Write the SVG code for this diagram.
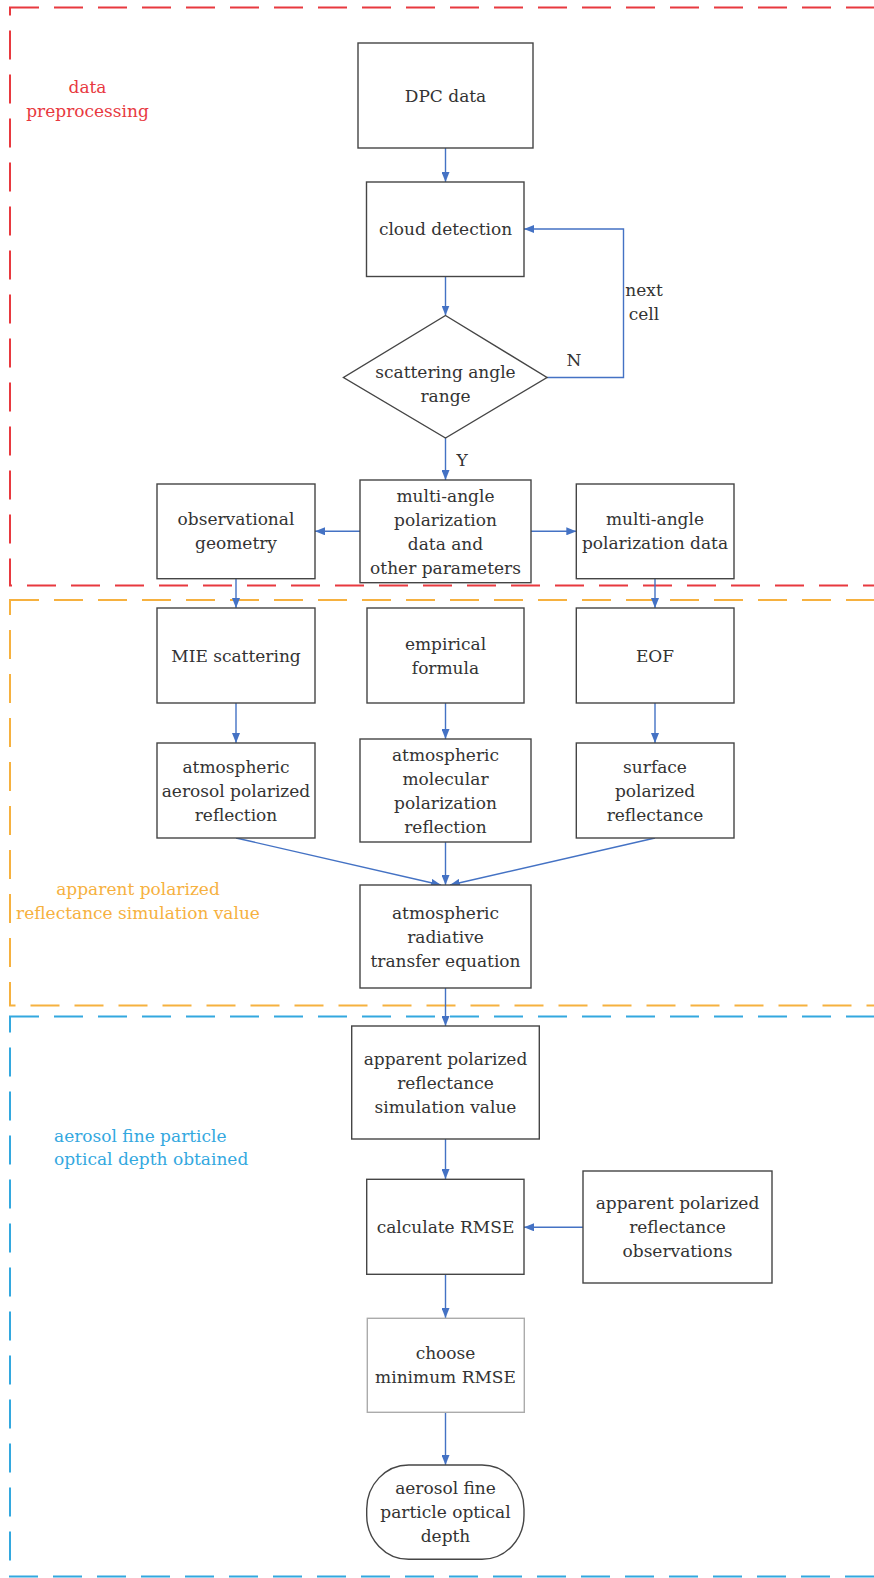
<svg xmlns="http://www.w3.org/2000/svg" width="874" height="1578" viewBox="0 0 874 1578">
<style>
.region{fill:none;stroke-width:2;stroke-dasharray:29 15}
.node{fill:#fff;stroke:#454545;stroke-width:1.4}
.light{stroke:#ababab}
.t{font-family:"DejaVu Serif","Liberation Serif",serif;font-size:17px;fill:#333;text-anchor:middle}
.lbl{font-family:"DejaVu Serif","Liberation Serif",serif;font-size:17px;text-anchor:middle}
.conn{fill:none;stroke:#4472c4;stroke-width:1.4;marker-end:url(#ah)}
</style>
<defs>
<marker id="ah" markerUnits="userSpaceOnUse" markerWidth="10" markerHeight="8" refX="10" refY="4" orient="auto">
<path d="M0,0 L10,4 L0,8 z" fill="#4472c4"/>
</marker>
</defs>
<rect width="874" height="1578" fill="#fff"/>
<g id="regions">
<rect class="region" x="10" y="7.5" width="900" height="578" stroke="#e8393f"/>
<rect class="region" x="10" y="600" width="900" height="405.5" stroke="#f6b13f"/>
<rect class="region" x="10" y="1016.5" width="900" height="560" stroke="#33a8df"/>
<text class="lbl" fill="#e8393f" x="87.5" y="93">data</text>
<text class="lbl" fill="#e8393f" x="87.5" y="117">preprocessing</text>
<text class="lbl" fill="#f6b13f" x="138" y="895">apparent polarized</text>
<text class="lbl" fill="#f6b13f" x="138" y="918.5">reflectance simulation value</text>
<text class="lbl" fill="#33a8df" x="54" y="1141.5" style="text-anchor:start">aerosol fine particle</text>
<text class="lbl" fill="#33a8df" x="54" y="1165" style="text-anchor:start">optical depth obtained</text>
</g>
<g id="connectors">
<path class="conn" d="M445.5,148 V182"/>
<path class="conn" d="M445.5,276.5 V315.5"/>
<path class="conn" d="M547,377.5 H623.5 V229 H524"/>
<path class="conn" d="M445.5,438 V480"/>
<path class="conn" d="M360,531.3 H315"/>
<path class="conn" d="M531,531.3 H576.3"/>
<path class="conn" d="M236,578.7 V608"/>
<path class="conn" d="M655,578.7 V608"/>
<path class="conn" d="M236,703 V743"/>
<path class="conn" d="M445.5,703 V739"/>
<path class="conn" d="M655,703 V743"/>
<path class="conn" d="M236,838 L441,885"/>
<path class="conn" d="M445.5,842 V885"/>
<path class="conn" d="M655,838 L450,885"/>
<path class="conn" d="M445.5,988 V1026"/>
<path class="conn" d="M445.5,1139 V1179"/>
<path class="conn" d="M583,1227.3 H524"/>
<path class="conn" d="M445.5,1274.3 V1318"/>
<path class="conn" d="M445.5,1412.3 V1465"/>
<text class="t" x="644" y="296">next</text>
<text class="t" x="644" y="320">cell</text>
<text class="t" x="574" y="366">N</text>
<text class="t" x="462" y="465.5">Y</text>
</g>
<g id="dpc"><rect class="node" x="358" y="43" width="175" height="105"/><text class="t" x="445.5" y="101.5">DPC data</text></g>
<g id="cloud"><rect class="node" x="366.5" y="182" width="157.5" height="94.5"/><text class="t" x="445.5" y="235.3">cloud detection</text></g>
<g id="scatter"><path class="node" d="M445.5,315.5 L547,377.5 L445.5,438 L343.5,377.5 z"/><text class="t" x="445.5" y="378">scattering angle</text><text class="t" x="445.5" y="402">range</text></g>
<g id="obsgeo"><rect class="node" x="157" y="484" width="158" height="94.7"/><text class="t" x="236" y="525.3">observational</text><text class="t" x="236" y="549.3">geometry</text></g>
<g id="multi"><rect class="node" x="360" y="480" width="171" height="102.7"/><text class="t" x="445.5" y="501.5">multi-angle</text><text class="t" x="445.5" y="525.5">polarization</text><text class="t" x="445.5" y="549.5">data and</text><text class="t" x="445.5" y="573.5">other parameters</text></g>
<g id="multipol"><rect class="node" x="576.3" y="484" width="157.7" height="94.7"/><text class="t" x="655" y="525.3">multi-angle</text><text class="t" x="655" y="549.3">polarization data</text></g>
<g id="mie"><rect class="node" x="157" y="608" width="158" height="95"/><text class="t" x="236" y="661.5">MIE scattering</text></g>
<g id="empirical"><rect class="node" x="367" y="608" width="157" height="95"/><text class="t" x="445.5" y="649.5">empirical</text><text class="t" x="445.5" y="673.5">formula</text></g>
<g id="eof"><rect class="node" x="576.3" y="608" width="157.7" height="95"/><text class="t" x="655" y="661.5">EOF</text></g>
<g id="aerosolrefl"><rect class="node" x="157" y="743" width="158" height="95"/><text class="t" x="236" y="772.5">atmospheric</text><text class="t" x="236" y="796.5">aerosol polarized</text><text class="t" x="236" y="820.5">reflection</text></g>
<g id="molecular"><rect class="node" x="360" y="739" width="171" height="103"/><text class="t" x="445.5" y="760.5">atmospheric</text><text class="t" x="445.5" y="784.5">molecular</text><text class="t" x="445.5" y="808.5">polarization</text><text class="t" x="445.5" y="832.5">reflection</text></g>
<g id="surface"><rect class="node" x="576.3" y="743" width="157.7" height="95"/><text class="t" x="655" y="772.5">surface</text><text class="t" x="655" y="796.5">polarized</text><text class="t" x="655" y="820.5">reflectance</text></g>
<g id="rte"><rect class="node" x="360" y="885" width="171" height="103"/><text class="t" x="445.5" y="918.5">atmospheric</text><text class="t" x="445.5" y="942.5">radiative</text><text class="t" x="445.5" y="966.5">transfer equation</text></g>
<g id="simvalue"><rect class="node" x="351.7" y="1026" width="187.6" height="113"/><text class="t" x="445.5" y="1064.5">apparent polarized</text><text class="t" x="445.5" y="1088.5">reflectance</text><text class="t" x="445.5" y="1112.5">simulation value</text></g>
<g id="rmse"><rect class="node" x="366.7" y="1179.3" width="157.3" height="95"/><text class="t" x="445.5" y="1233">calculate RMSE</text></g>
<g id="observations"><rect class="node" x="583" y="1171" width="189" height="112"/><text class="t" x="677.5" y="1209">apparent polarized</text><text class="t" x="677.5" y="1233">reflectance</text><text class="t" x="677.5" y="1257">observations</text></g>
<g id="minrmse"><rect class="node light" x="367.3" y="1318.3" width="157" height="94"/><text class="t" x="445.5" y="1359">choose</text><text class="t" x="445.5" y="1383">minimum RMSE</text></g>
<g id="result"><rect class="node" x="366.7" y="1465" width="157.3" height="94.3" rx="42" ry="44"/><text class="t" x="445.5" y="1494">aerosol fine</text><text class="t" x="445.5" y="1518">particle optical</text><text class="t" x="445.5" y="1542">depth</text></g>
</svg>
